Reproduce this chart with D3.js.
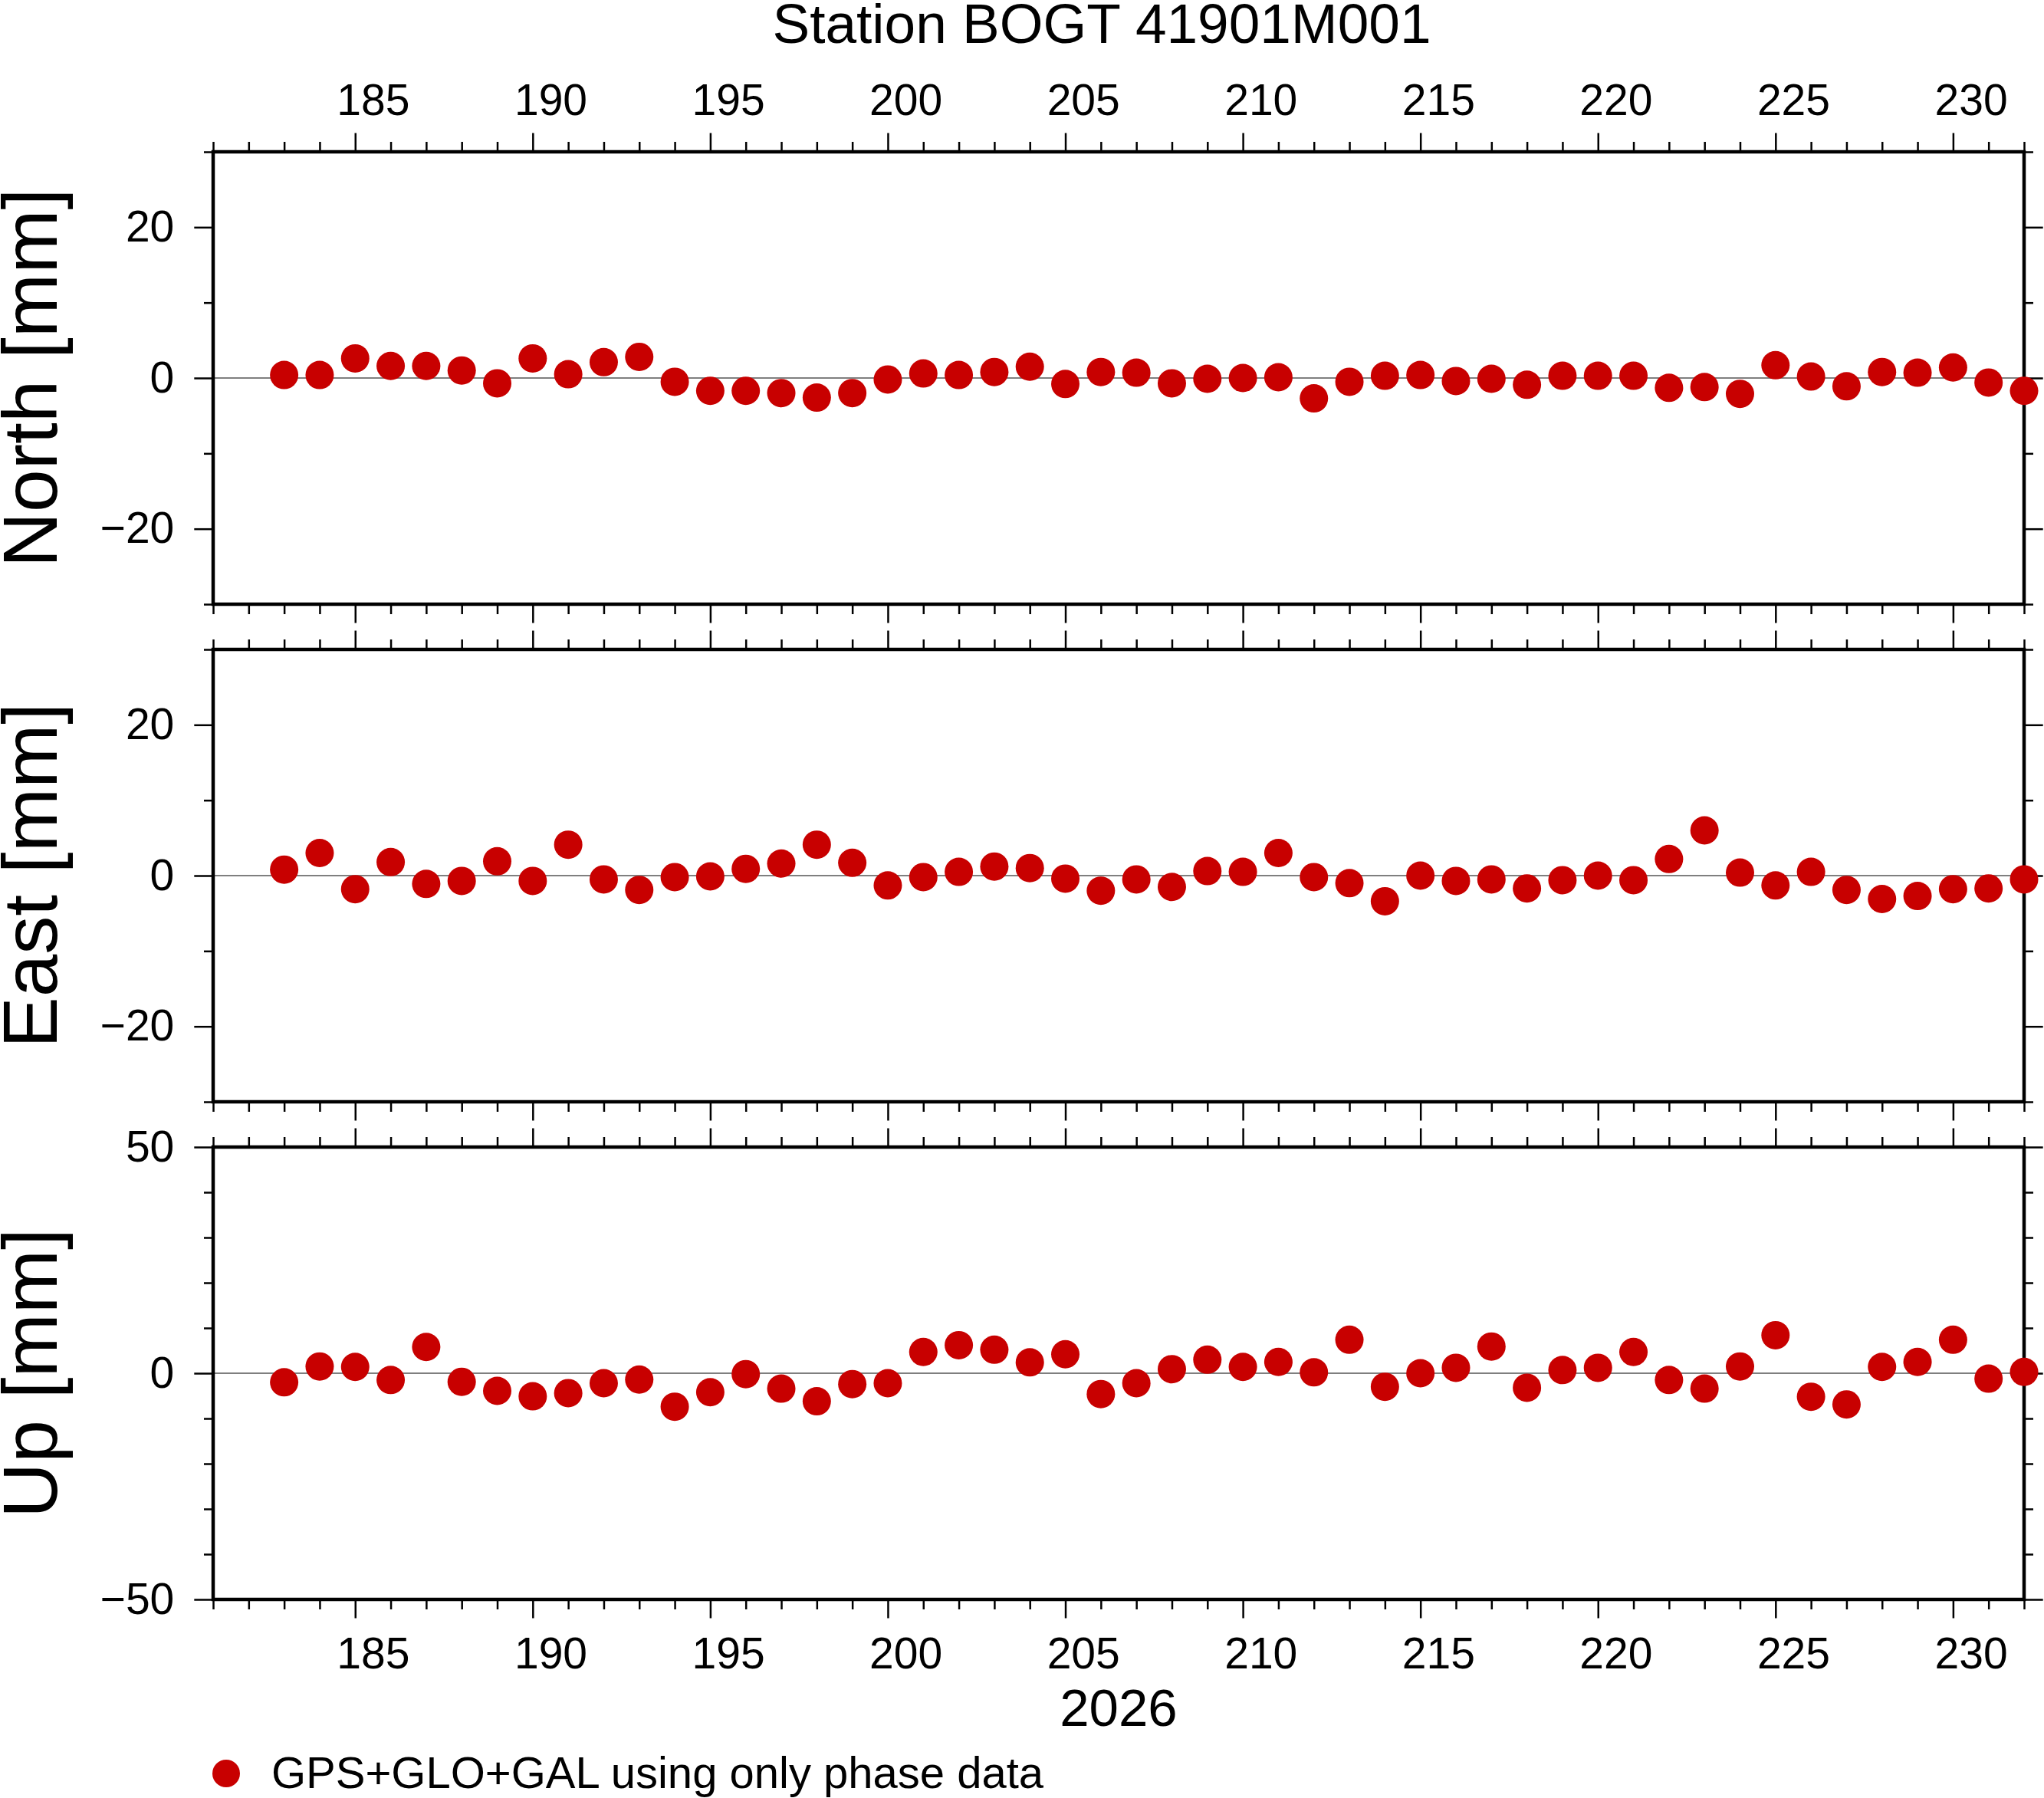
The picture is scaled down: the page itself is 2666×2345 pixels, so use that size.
<!DOCTYPE html>
<html>
<head>
<meta charset="utf-8">
<script src="https://cdn.jsdelivr.net/npm/d3@7"></script>
<style>
  body { margin: 0; background: #fff; }
  svg { display: block; font-family: "Liberation Sans", Arial, Helvetica, sans-serif; }
</style>
</head>
<body>
<div id="chart"></div>
<script>
// day of year 2026
const days = d3.range(183, 233);

// residuals in mm
const north = [0.4, 0.4, 2.6, 1.6, 1.6, 1.0, -0.7, 2.6, 0.5, 2.1,
  2.8, -0.5, -1.7, -1.7, -2.0, -2.6, -2.0, -0.2, 0.6, 0.4,
  0.8, 1.5, -0.8, 0.8, 0.7, -0.7, -0.1, 0.0, 0.1, -2.7,
  -0.5, 0.3, 0.4, -0.4, -0.1, -0.9, 0.3, 0.3, 0.3, -1.3,
  -1.2, -2.1, 1.7, 0.2, -1.1, 0.8, 0.7, 1.4, -0.6, -1.7];

const east = [0.8, 3.0, -1.8, 1.8, -1.1, -0.7, 1.9, -0.7, 4.1, -0.5,
  -1.9, -0.2, -0.1, 0.9, 1.6, 4.1, 1.7, -1.3, -0.2, 0.5,
  1.2, 1.0, -0.4, -2.0, -0.5, -1.5, 0.6, 0.5, 3.0, -0.2,
  -1.0, -3.4, 0.0, -0.7, -0.5, -1.7, -0.6, 0.0, -0.6, 2.2,
  6.0, 0.4, -1.3, 0.5, -1.9, -3.1, -2.7, -1.8, -1.7, -0.5];

const up = [-2.0, 1.5, 1.4, -1.5, 5.8, -1.9, -3.9, -5.1, -4.4, -2.2,
  -1.4, -7.4, -4.2, -0.2, -3.4, -6.2, -2.4, -2.2, 4.7, 6.2,
  5.2, 2.4, 4.2, -4.6, -2.2, 0.9, 3.0, 1.4, 2.5, 0.2,
  7.4, -3.0, 0.0, 1.2, 5.9, -3.2, 0.7, 1.2, 4.7, -1.5,
  -3.4, 1.5, 8.4, -5.2, -6.9, 1.4, 2.5, 7.4, -1.2, 0.3];

const panels = [
  { label: "North [mm]", values: north, domain: [-30, 30], major: 20 },
  { label: "East [mm]", values: east, domain: [-30, 30], major: 20 },
  { label: "Up [mm]", values: up, domain: [-50, 50], major: 50 }
];

const xDomain = [181, 232];
const xMajor = d3.range(185, 231, 5);
const xMinor = d3.range(181, 233);
const title = "Station BOGT 41901M001";
const xTitle = "2026";
const legendText = "GPS+GLO+GAL using only phase data";

const W = 2666, H = 2345;
const left = 278, right = 2640;
const panelTop = [198, 847, 1496], panelH = 590;
const red = "#c80000";
const fs = 57;

const svg = d3.select("#chart").append("svg")
  .attr("width", W).attr("height", H);

const x = d3.scaleLinear().domain(xDomain).range([left, right]);
const halfDay = x(1) - x(0.5);

svg.append("text")
  .attr("x", 1437).attr("y", 56)
  .attr("text-anchor", "middle")
  .style("font-size", "73px")
  .text(title);

panels.forEach((p, i) => {
  const top = panelTop[i], bot = top + panelH;
  const y = d3.scaleLinear().domain(p.domain).range([bot, top]);
  const yTicks = d3.range(p.domain[0], p.domain[1] + 1, 10);
  const yMaj = yTicks.filter(v => v % p.major === 0);
  const yMin = yTicks.filter(v => v % p.major !== 0);
  const g = svg.append("g");

  // x ticks top and bottom (minor + major)
  const xMinOnly = xMinor.filter(d => d % 5 !== 0);
  [["top", top, d3.axisTop], ["bottom", bot, d3.axisBottom]].forEach(([side, yy, ax]) => {
    const showLab = (i === 0 && side === "top") || (i === 2 && side === "bottom");
    g.append("g").attr("transform", `translate(0,${yy})`)
      .call(ax(x).tickValues(xMinOnly).tickSize(13).tickFormat(""));
    const maj = g.append("g").attr("transform", `translate(0,${yy})`)
      .call(ax(x).tickValues(xMajor).tickSize(24.5)
        .tickPadding(side === "top" ? 23.5 : 25)
        .tickFormat(showLab ? d3.format("d") : ""));
    maj.selectAll("text").attr("dx", halfDay);
  });

  // y ticks left and right
  [[left, d3.axisLeft, true], [right, d3.axisRight, false]].forEach(([xx, ax, lab]) => {
    g.append("g").attr("transform", `translate(${xx},0)`)
      .call(ax(y).tickValues(yMin).tickSize(12).tickFormat(""));
    g.append("g").attr("transform", `translate(${xx},0)`)
      .call(ax(y).tickValues(yMaj).tickSize(24.7).tickPadding(26)
        .tickFormat(lab ? d3.format("d") : ""));
  });

  g.selectAll(".domain").remove();
  g.selectAll(".tick line").attr("stroke", "#000").attr("stroke-width", 2.5);
  g.selectAll(".tick text").attr("fill", "#000")
    .style("font-size", fs + "px").style("font-family", "Liberation Sans, Arial, sans-serif");

  // zero line
  g.append("line")
    .attr("x1", left).attr("x2", right)
    .attr("y1", y(0)).attr("y2", y(0))
    .attr("stroke", "#000").attr("stroke-width", 1.2);

  // frame
  g.append("rect")
    .attr("x", left).attr("y", top)
    .attr("width", right - left).attr("height", panelH)
    .attr("fill", "none").attr("stroke", "#000").attr("stroke-width", 4.5);

  g.selectAll("circle.pt").data(p.values).enter()
    .append("circle").attr("class", "pt")
    .attr("cx", (d, k) => x(days[k]))
    .attr("cy", d => y(d))
    .attr("r", 18.5)
    .attr("fill", red);

  svg.append("text")
    .attr("transform", `translate(74,${(top + bot) / 2}) rotate(-90)`)
    .attr("text-anchor", "middle")
    .style("font-size", "100px")
    .text(p.label);
});

svg.append("text")
  .attr("x", (left + right) / 2).attr("y", 2251)
  .attr("text-anchor", "middle")
  .style("font-size", "69px")
  .text(xTitle);

svg.append("circle")
  .attr("cx", 295).attr("cy", 2313).attr("r", 18)
  .attr("fill", red);
svg.append("text")
  .attr("x", 354).attr("y", 2332)
  .style("font-size", "58px")
  .text(legendText);
</script>
</body>
</html>
